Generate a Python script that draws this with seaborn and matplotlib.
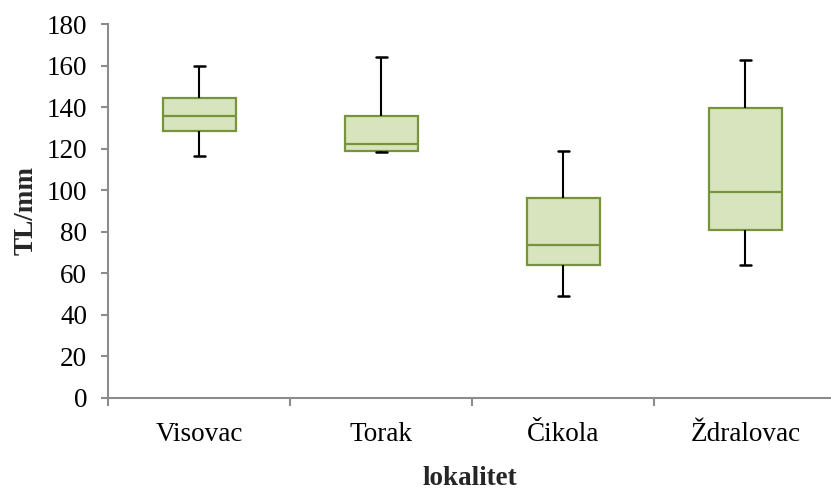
import numpy as np
import pandas as pd
import seaborn as sns
import matplotlib
matplotlib.use("Agg")
import matplotlib.pyplot as plt

categories = ["Visovac", "Torak", "Čikola", "Ždralovac"]
whisker_low = [116.5, 118.5, 49.0, 64.0]
q1 = [128.5, 118.8, 64.0, 80.6]
median = [135.5, 122.2, 73.7, 99.1]
q3 = [144.5, 135.7, 96.3, 139.5]
whisker_high = [160.0, 164.0, 119.0, 162.7]
yticks = [0, 20, 40, 60, 80, 100, 120, 140, 160, 180]

rows = []
for i, c in enumerate(categories):
    for v in (whisker_low[i], q1[i], median[i], q3[i], whisker_high[i]):
        rows.append({"lokalitet": c, "TL": v})
df = pd.DataFrame(rows)

sns.set_style("white")
plt.rcParams["font.family"] = ["Liberation Serif", "DejaVu Serif"]

fig = plt.figure(figsize=(8.31, 4.90), dpi=100)
ax = fig.add_axes([0.13, 0.188, 0.87, 0.763])

fill = "#D7E4BD"
edge = "#77933C"
sns.boxplot(data=df, x="lokalitet", y="TL", order=categories, whis=(0, 100),
            width=0.4, color=fill, linecolor=edge, linewidth=1.6,
            whiskerprops=dict(color="black", linewidth=1.5),
            capprops=dict(color="black", linewidth=1.8),
            medianprops=dict(color=edge, linewidth=1.6),
            capwidths=0.06, ax=ax)
for p in ax.patches:
    p.set_facecolor(fill)
    p.set_edgecolor(edge)

ax.set_ylim(0, 180)
ax.set_yticks(yticks)
ax.set_xlim(-0.5, 3.47)
ax.set_xticks(np.arange(len(categories)))
ax.set_xticklabels(categories)
ax.set_xticks(np.arange(len(categories)) - 0.5, minor=True)

for s in ["top", "right"]:
    ax.spines[s].set_visible(False)
for s in ["left", "bottom"]:
    ax.spines[s].set_color("#8c8c8c")
    ax.spines[s].set_linewidth(1.5)

fs = 19.5
ax.tick_params(axis="y", which="major", left=True, length=5, width=1.5,
               color="#8c8c8c", labelsize=fs, labelcolor="black", pad=10)
ax.tick_params(axis="x", which="major", bottom=False, labelsize=fs,
               labelcolor="black", pad=14)
ax.tick_params(axis="x", which="minor", bottom=True, length=6, width=1.5,
               color="#8c8c8c")

ax.set_ylabel("TL/mm", fontsize=fs, fontweight="bold", labelpad=6)
ax.set_xlabel("lokalitet", fontsize=fs, fontweight="bold", labelpad=13.5)

fig.savefig("out.png", dpi=100)
